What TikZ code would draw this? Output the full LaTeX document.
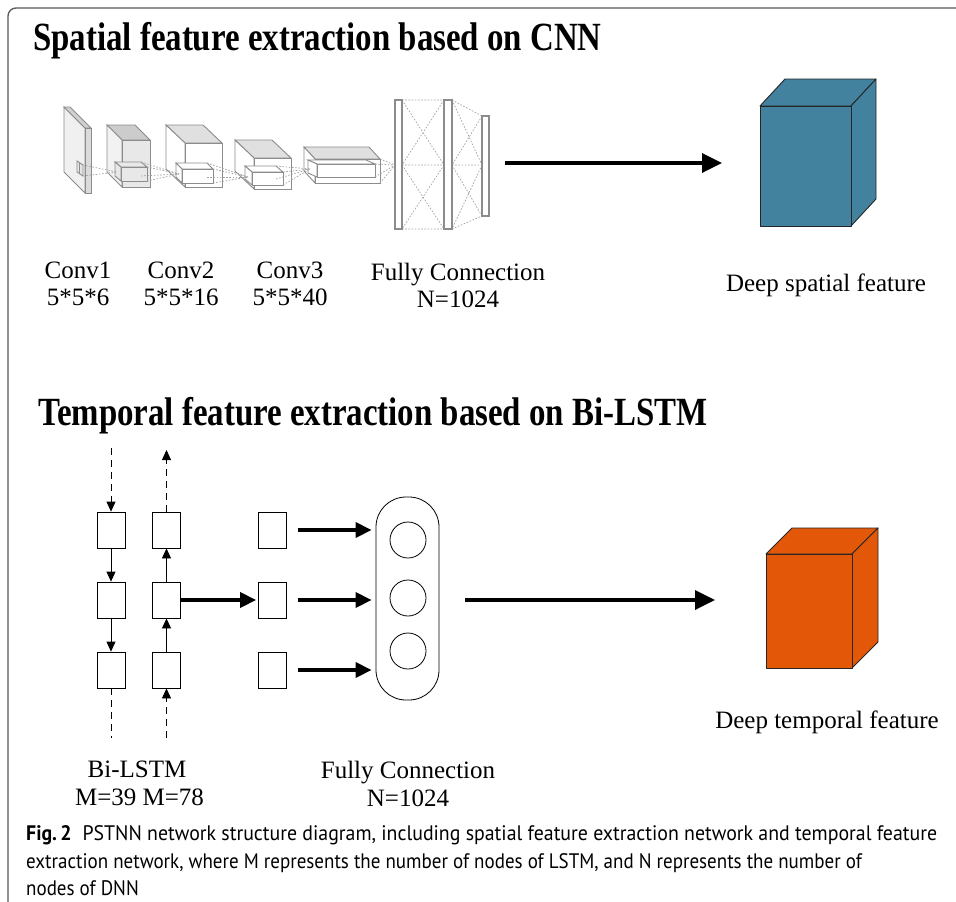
\documentclass[tikz,border=0pt]{standalone}
\usepackage{fontspec}
\setmainfont{Liberation Serif}
\newfontfamily\capfont{PT Sans}
\usetikzlibrary{arrows.meta}

% gray cuboid seen from the front, depth going up-left
% #1,#2 front top-left  #3,#4 front bottom-right  #5,#6 depth  #7 top fill  #8 front fill  #9 side fill
\newcommand{\grayblock}[9]{%
  \filldraw[cnnline,fill=#7] (#1,#2) -- (#1-#5,#2-#6) -- (#3-#5,#2-#6) -- (#3,#2) -- cycle;
  \filldraw[cnnline,fill=#9] (#1,#2) -- (#1-#5,#2-#6) -- (#1-#5,#4-#6) -- (#1,#4) -- cycle;
  \filldraw[cnnline,fill=#8] (#1,#2) rectangle (#3,#4);
}
% coloured cuboid, depth going up-right
\newcommand{\colorblock}[7]{%
  \filldraw[cubeline,fill=#7] (#1,#2) -- (#1+#5,#2-#6) -- (#3+#5,#2-#6) -- (#3,#2) -- cycle;
  \filldraw[cubeline,fill=#7] (#3,#2) -- (#3+#5,#2-#6) -- (#3+#5,#4-#6) -- (#3,#4) -- cycle;
  \filldraw[cubeline,fill=#7] (#1,#2) rectangle (#3,#4);
}

\definecolor{spatialblue}{RGB}{67,130,158}
\definecolor{temporalorange}{RGB}{227,88,8}
\definecolor{cnngray}{RGB}{140,140,140}

\tikzset{
  cnnline/.style={draw=cnngray, line width=0.9pt},
  cnndot/.style={draw=cnngray!80, line width=0.7pt, dash pattern=on 1.6pt off 1.6pt},
  cubeline/.style={draw=black!85, line width=0.9pt, line join=round},
  title/.style={font=\bfseries\fontsize{40}{40}\selectfont, anchor=base west, xscale=0.822, inner sep=0pt},
  label/.style={font=\fontsize{25}{25}\selectfont, anchor=base, inner sep=0pt},
  cell/.style={draw, line width=0.8pt, minimum width=28pt, minimum height=36pt, inner sep=0pt},
  neuron/.style={draw, circle, line width=0.8pt, minimum size=36pt, inner sep=0pt},
  dnnbox/.style={draw, line width=0.8pt, rounded corners=30pt, minimum width=63pt, minimum height=203pt, inner sep=0pt},
  thinarrow/.style={line width=0.8pt, -{Triangle[length=10pt,width=9pt]}},
  dasharrow/.style={line width=0.8pt, dash pattern=on 7pt off 5pt},
  fatarrow/.style={line width=3.5pt, -{Triangle[length=16pt,width=15pt]}},
  bigarrow/.style={line width=3.5pt, -{Triangle[length=20pt,width=19pt]}},
  caption/.style={font=\capfont\fontsize{21}{21}\selectfont, anchor=base west, inner sep=0pt, xscale=0.905},
}

\begin{document}
\begin{tikzpicture}[x=1pt,y=-1pt]
\useasboundingbox (0,0) rectangle (956,902);
\fill[white] (0,0) rectangle (956,902);

% page frame
\draw[black!65, line width=1.3pt, rounded corners=8pt] (8,902) -- (8,8) -- (956,8);

% ---------------- spatial branch ----------------
\node[title] (t1) at (33,50) {Spatial feature extraction based on CNN};

% input plate
\filldraw[cnnline, fill=black!6] (64,107) -- (85,128) -- (85,193) -- (64,172) -- cycle;
\filldraw[cnnline, fill=black!18] (64,107) -- (70,107) -- (91,128) -- (85,128) -- cycle;
\filldraw[cnnline, fill=black!14] (85,128) rectangle (91,193);
% kernel on the plate
\filldraw[cnnline, fill=black!10] (77,161) -- (83,165) -- (83,176) -- (77,172) -- cycle;
\draw[cnnline] (79,163) -- (79,173);

% conv blocks
\grayblock{122}{140}{150}{187}{15}{15}{black!20}{black!9}{black!5}
\grayblock{185}{143}{222}{187}{19}{18}{black!12}{white}{white}
\grayblock{254}{158}{291}{189}{19}{18}{black!12}{white}{white}
\grayblock{315}{159}{380}{183}{11}{12}{black!12}{white}{white}

% receptive-field boxes inside the blocks
\grayblock{121}{167}{147}{181}{6}{5}{black!9}{black!9}{black!9}
\grayblock{182}{169}{213}{183}{6}{6}{white}{white}{white}
\grayblock{252}{172}{283}{185}{7}{6}{white}{white}{white}
\grayblock{317}{164}{375}{177}{9}{4}{white}{white}{white}

% projections between layers
\coordinate (p1) at (117,172);
\coordinate (p2) at (179,174);
\coordinate (p3) at (248,177);
\coordinate (p4) at (310,169);
\coordinate (p5) at (395,165);
\foreach \a in {(83,165),(83,176)} \draw[cnndot] \a -- (p1);
\foreach \a in {(147,167),(147,181),(141,162),(141,176)} \draw[cnndot] \a -- (p2);
\foreach \a in {(213,169),(213,183),(207,163),(207,177)} \draw[cnndot] \a -- (p3);
\foreach \a in {(283,172),(283,185),(276,166),(276,179)} \draw[cnndot] \a -- (p4);
\foreach \a in {(380,159),(380,183),(375,164),(375,177)} \draw[cnndot] \a -- (p5);

% fully connected slabs
\draw[cnndot] (402,100) -- (444,100) (402,229) -- (444,229) (402,165) -- (444,165)
  (402,100) -- (444,165) (444,100) -- (402,165) (402,165) -- (444,229) (444,165) -- (402,229);
\draw[cnndot] (452,100) -- (482,116) (452,229) -- (482,216) (452,165) -- (482,165)
  (452,100) -- (482,165) (482,116) -- (452,165) (452,165) -- (482,216) (482,165) -- (452,229);
\filldraw[cnnline, fill=white, line width=1.3pt] (395,100) rectangle (402,229);
\filldraw[cnnline, fill=white, line width=1.3pt] (444,100) rectangle (452,229);
\filldraw[cnnline, fill=white, line width=1.3pt] (482,116) rectangle (489,216);

% deep spatial feature cube
\colorblock{760}{106}{851}{226}{25}{27}{spatialblue}
\coordinate (fcout) at (489,163);
\coordinate (cubein) at (760,163);
\draw[bigarrow, shorten <=16pt, shorten >=38pt] (fcout) -- (cubein);

\node[label] (c1a) at (78,278) {Conv1};
\node[label] (c1b) at (78,305) {5*5*6};
\node[label] (c2a) at (181,278) {Conv2};
\node[label] (c2b) at (181,305) {5*5*16};
\node[label] (c3a) at (290,278) {Conv3};
\node[label] (c3b) at (290,305) {5*5*40};
\node[label] (fca) at (458,280) {Fully Connection};
\node[label] (fcb) at (458,307) {N=1024};
\node[label] (dsf) at (826,291) {Deep spatial feature};

% ---------------- temporal branch ----------------
\node[title] (t2) at (38,425) {Temporal feature extraction based on Bi-LSTM};

\foreach \i/\y in {1/530,2/600,3/670} {
  \node[cell] (l\i) at (111,\y) {};
  \node[cell] (r\i) at (166.5,\y) {};
  \node[cell] (o\i) at (272.5,\y) {};
}
\node[dnnbox] (dnn) at (407.5,598.5) {};
\node[neuron] (n1) at (408,540) {};
\node[neuron] (n2) at (408,598) {};
\node[neuron] (n3) at (408,651) {};

\coordinate (l0) at (111,448);
\coordinate (lz) at (111,738);
\coordinate (r0) at (166.5,450);
\coordinate (rz) at (166.5,738);
\draw[dasharrow, -{Triangle[length=10pt,width=9pt]}] (l0) -- (l1.north);
\draw[dasharrow] (l3.south) -- (lz);
\draw[dasharrow, -{Triangle[length=10pt,width=9pt]}] (rz) -- (r3.south);
\draw[dasharrow, -{Triangle[length=10pt,width=9pt]}] (r1.north) -- (r0);
\draw[thinarrow] (l1) -- (l2);
\draw[thinarrow] (l2) -- (l3);
\draw[thinarrow] (r3) -- (r2);
\draw[thinarrow] (r2) -- (r1);

\draw[fatarrow, shorten >=2pt] (r2.east) -- (o2.west);
\foreach \i in {1,2,3}
  \draw[fatarrow, shorten <=11pt, shorten >=4pt] (o\i.east) -- (o\i.east -| dnn.west);

% deep temporal feature cube
\colorblock{766}{554}{852}{668}{26}{26}{temporalorange}
\coordinate (tcubein) at (766,600);
\draw[bigarrow, shorten <=26pt, shorten >=51pt] (dnn.east |- tcubein) -- (tcubein);

\node[label] (bil) at (137,777) {Bi-LSTM};
\node[label] (bim) at (139.5,805) {M=39 M=78};
\node[label] (fc2a) at (408,778) {Fully Connection};
\node[label] (fc2b) at (408,806) {N=1024};
\node[label] (dtf) at (827,728) {Deep temporal feature};

% ---------------- caption ----------------
\node[caption, xscale=1.044] (cap1) at (26,840) {{\bfseries Fig.\,2}\hspace{0.55em}PSTNN network structure diagram, including spatial feature extraction network and temporal feature};
\node[caption] (cap2) at (26,868) {extraction network, where M represents the number of nodes of LSTM, and N represents the number of};
\node[caption] (cap3) at (26,895) {nodes of DNN};
\end{tikzpicture}
\end{document}
